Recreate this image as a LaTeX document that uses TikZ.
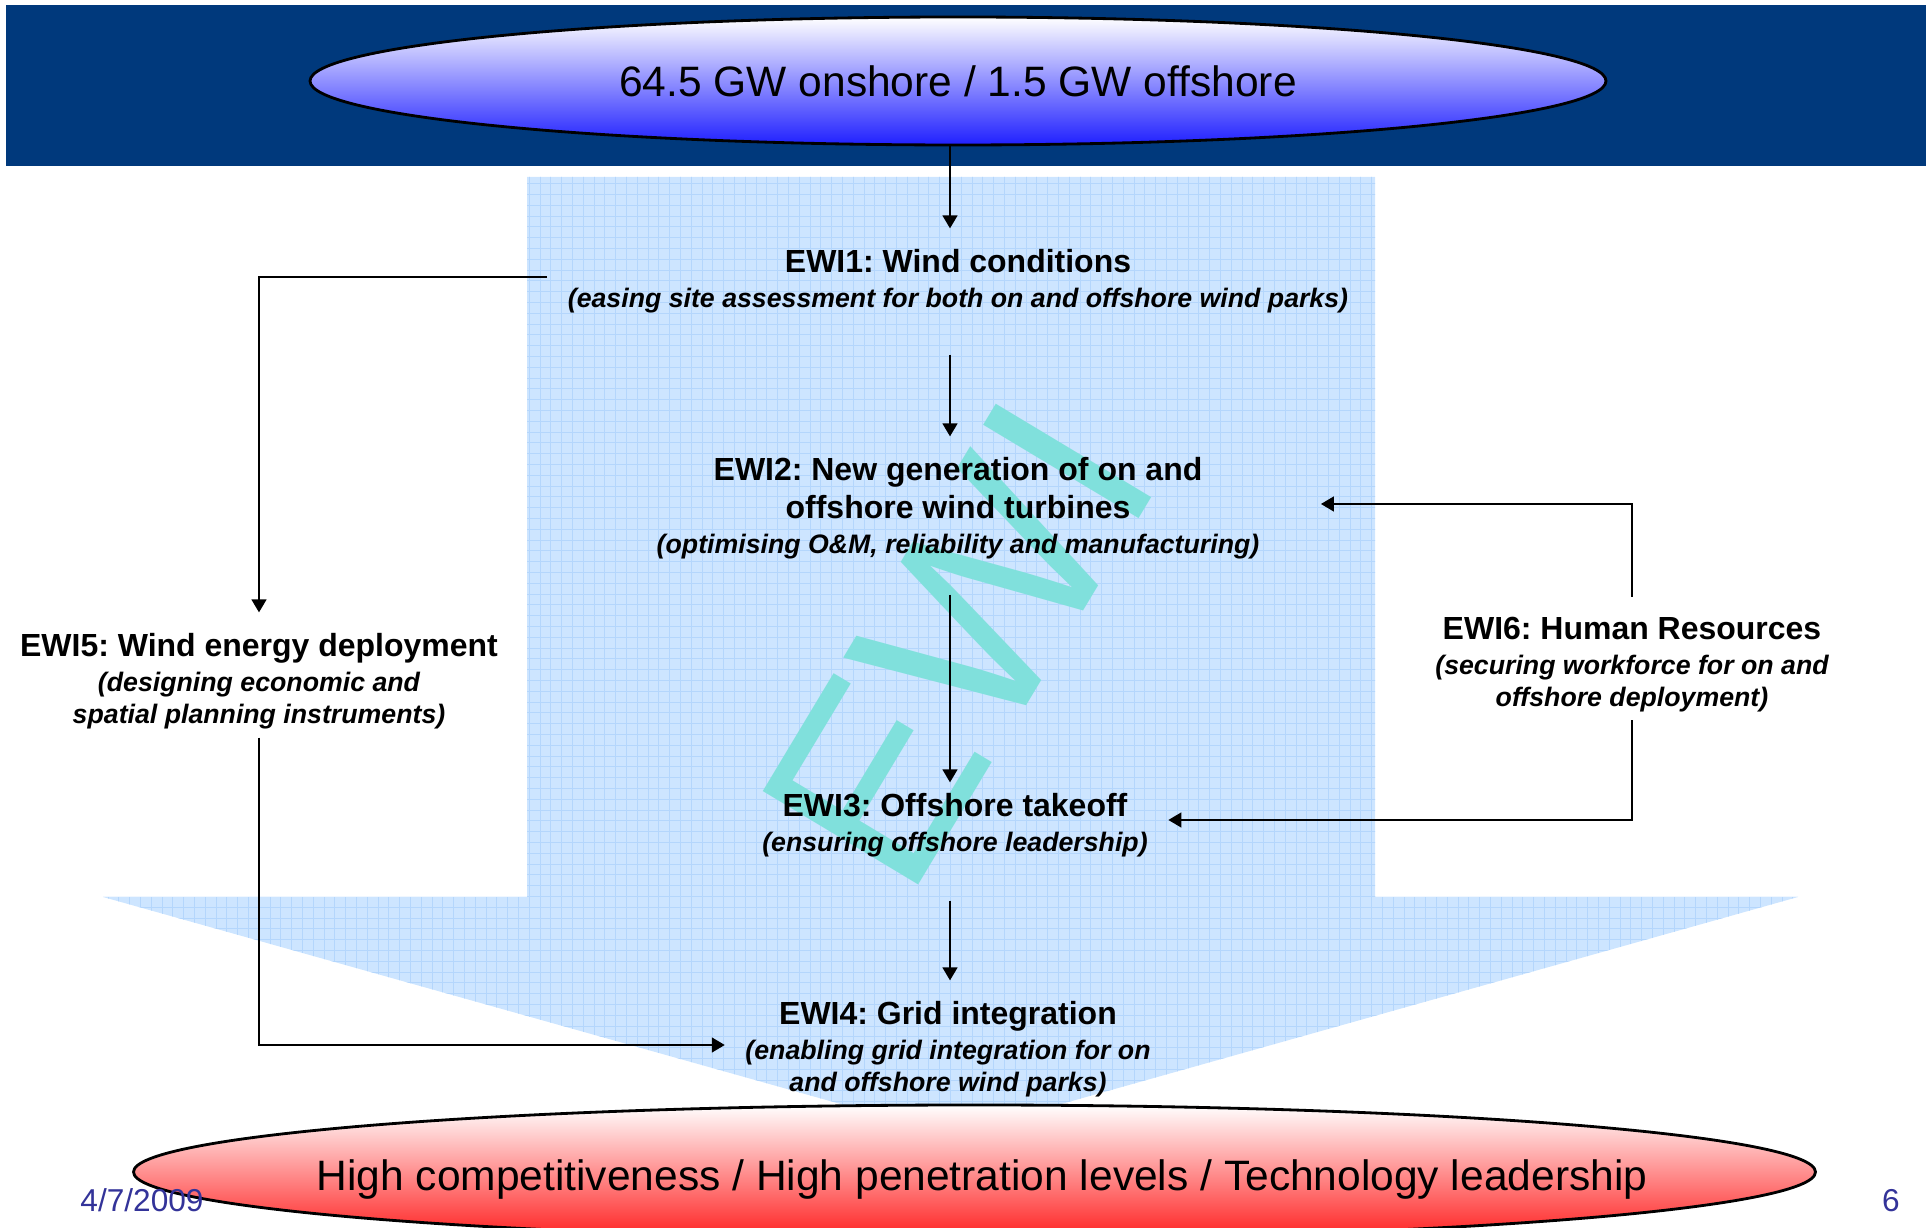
\documentclass[tikz,border=0pt]{standalone}
\usepackage{fontspec}
\setmainfont{Liberation Sans}
\usetikzlibrary{shapes.geometric}
\usetikzlibrary{arrows.meta}
\frenchspacing

\definecolor{bandblue}{RGB}{0,57,124}
\definecolor{arrowblue}{RGB}{205,229,255}
\definecolor{gridblue}{RGB}{180,214,252}
\definecolor{ewicyan}{RGB}{128,224,220}
\definecolor{deepblue}{RGB}{32,32,255}
\definecolor{deepred}{RGB}{255,32,32}
\definecolor{footblue}{RGB}{51,51,153}

\newcommand{\ewisub}[1]{{\fontsize{7.6}{9}\selectfont\bfseries\itshape #1}}

\begin{document}
\begin{tikzpicture}[
    oval/.style={ellipse, draw, line width=0.8pt, inner sep=0pt},
    ewi/.style={align=center, inner sep=0.2cm, font=\fontsize{9.1}{10}\selectfont\bfseries},
    flow/.style={-{Triangle[length=0.13cm, width=0.15cm]}, line width=0.45pt},
    big/.style={font=\fontsize{12.1}{14}\selectfont}
]
    \useasboundingbox (0, 0) rectangle (19.3, -12.28);
    \fill[bandblue] (0.06, -0.05) rectangle (19.26, -1.66);

    % wide arrow behind the work packages
    \begin{scope}
        \clip (5.27, -1.77) -- (13.75, -1.77) -- (13.75, -8.97) -- (17.98, -8.97)
            -- (9.51, -11.35) -- (1.03, -8.97) -- (5.27, -8.97) -- cycle;
        \fill[arrowblue] (1, -1.7) rectangle (18, -11.4);
        \draw[gridblue, line width=0.2pt, step=0.108] (1, -1.7) grid (18, -11.4);
    \end{scope}
    \node[rotate=59, text=ewicyan, font=\fontsize{75}{75}\selectfont] (mark) at (9.58, -6.43) {EWI};

    \node[oval, big, top color=white, bottom color=deepblue,
        minimum width=12.96cm, minimum height=1.28cm] (supply) at (9.58, -0.81)
        {64.5 GW onshore / 1.5 GW offshore};

    \node[ewi] (wind) at (9.58, -2.81) {EWI1: Wind conditions\\
        \ewisub{(easing site assessment for both on and offshore wind parks)}};
    \node[ewi] (turbines) at (9.58, -5.08) {EWI2: New generation of on and\\[0.8pt]
        offshore wind turbines\\
        \ewisub{(optimising O\&M, reliability and manufacturing)}};
    \node[ewi] (offshore) at (9.55, -8.25) {EWI3: Offshore takeoff\\
        \ewisub{(ensuring offshore leadership)}};
    \node[ewi] (grid) at (9.48, -10.49) {EWI4: Grid integration\\
        \ewisub{(enabling grid integration for on}\\[-0.9pt]
        \ewisub{and offshore wind parks)}};
    \node[ewi] (deploy) at (2.59, -6.81) {EWI5: Wind energy deployment\\
        \ewisub{(designing economic and}\\[-0.9pt]
        \ewisub{spatial planning instruments)}};
    \node[ewi] (people) at (16.32, -6.65) {EWI6: Human Resources\\
        \ewisub{(securing workforce for on and}\\[-0.9pt]
        \ewisub{offshore deployment)}};

    \node[oval, top color=white, bottom color=deepred,
        minimum width=16.82cm, minimum height=1.34cm] (goal) at (9.745, -11.72) {};
    \node[big, anchor=base] (goaltext) at (9.82, -11.905)
        {High competitiveness / High penetration levels / Technology leadership};
    \node[text=footblue, font=\fontsize{9}{10}\selectfont, anchor=base west] (date) at (0.68, -12.12) {4/7/2009};
    \node[text=footblue, font=\fontsize{9}{10}\selectfont, anchor=base east] (page) at (19.12, -12.12) {6};

    % main chain down the arrow
    \draw[flow] (supply.south -| 9.5, 0) -- (wind.north -| 9.5, 0);
    \draw[flow, shorten <=0.21cm] (wind.south -| 9.5, 0) -- (turbines.north -| 9.5, 0);
    \draw[flow, shorten <=0.15cm, shorten >=-0.1cm] (turbines.south -| 9.5, 0) -- (offshore.north -| 9.5, 0);
    \draw[flow, shorten <=0.23cm] (offshore.south -| 9.5, 0) -- (grid.north -| 9.5, 0);

    % side loops
    \draw[flow] ([yshift=0.04cm]wind.west) -| (deploy.north);
    \draw[flow, shorten <=-0.12cm] (deploy.south) |- ([yshift=0.04cm]grid.west);
    \draw[flow, shorten >=0.41cm] (people.north) |- ([yshift=0.04cm]turbines.east);
    \draw[flow, shorten <=-0.13cm] (people.south) |- ([yshift=0.05cm]offshore.east);
\end{tikzpicture}
\end{document}
